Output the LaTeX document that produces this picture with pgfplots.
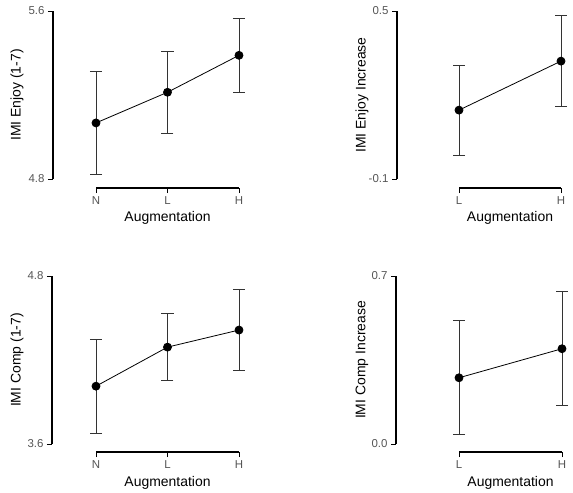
\documentclass[border=0pt]{standalone}
\usepackage{fontspec}
\setmainfont{Liberation Sans}
\usepackage{pgfplots}
\pgfplotsset{compat=1.18}
\definecolor{ticktxt}{HTML}{555555}

\pgfplotsset{
  rplot/.style={
    scale only axis, clip=false, height=168bp,
    axis x line*=bottom, axis y line*=left,
    tick align=outside, major tick length=5bp,
    tick style={black, line width=0.7bp},
    axis line style={line width=1.1bp},
    ticklabel style={font=\fontsize{11.5}{13}\selectfont, text=ticktxt},
    /pgf/number format/assume math mode=true,
    /pgf/number format/fixed, /pgf/number format/fixed zerofill,
    /pgf/number format/precision=1,
    label style={font=\fontsize{14}{16}\selectfont},
    xlabel={Augmentation},
    xlabel style={at={(rel axis cs:0.5,0)}, anchor=center, yshift=-39bp},
    ylabel style={at={(rel axis cs:0,0.5)}, anchor=center},
  },
  meanline/.style={black, line width=0.8bp, mark=*, mark size=4bp,
    mark options={solid, fill=black},
    error bars/.cd, y dir=both, y explicit,
    error bar style={line width=0.8bp, black!80},
    error mark options={rotate=90, mark size=6bp, line width=0.8bp, black!80}},
}

\begin{document}
\begin{tikzpicture}
\useasboundingbox (0,0) rectangle (573bp,-493bp);

% top left
\begin{axis}[rplot, at={(96bp,-179bp)}, anchor=south west, width=143bp,
  xmin=1, xmax=3, ymin=4.8, ymax=5.6, ytick={4.8,5.6},
  xtick={1,2,3}, xticklabels={N,L,H},
  axis x line shift=9bp, axis y line shift=43bp,
  ylabel={IMI Enjoy (1-7)}, ylabel style={yshift=79bp}]
  \addplot+[meanline] coordinates {
    (1,5.067) +- (0,0.244)
    (2,5.213) +- (0,0.194)
    (3,5.389) +- (0,0.175)
  };
  \draw[line width=1.1bp] ([yshift=-9bp]rel axis cs:0,0) -- ([yshift=-9bp]rel axis cs:1,0);
\end{axis}

% top right
\begin{axis}[rplot, at={(459bp,-179bp)}, anchor=south west, width=102bp,
  xmin=1, xmax=2, ymin=-0.1, ymax=0.5, ytick={-0.1,0.5},
  xtick={1,2}, xticklabels={L,H},
  axis x line shift=9bp, axis y line shift=62bp,
  ylabel={IMI Enjoy Increase}, ylabel style={yshift=97bp}]
  \addplot+[meanline] coordinates {
    (1,0.146) +- (0,0.161)
    (2,0.321) +- (0,0.162)
  };
  \draw[line width=1.1bp] ([yshift=-9bp]rel axis cs:0,0) -- ([yshift=-9bp]rel axis cs:1,0);
\end{axis}

% bottom left
\begin{axis}[rplot, at={(96bp,-444bp)}, anchor=south west, width=143bp,
  xmin=1, xmax=3, ymin=3.6, ymax=4.8, ytick={3.6,4.8},
  xtick={1,2,3}, xticklabels={N,L,H},
  axis x line shift=8bp, axis y line shift=44bp,
  ylabel={IMI Comp (1-7)}, ylabel style={yshift=79bp}]
  \addplot+[meanline] coordinates {
    (1,4.013) +- (0,0.334)
    (2,4.292) +- (0,0.238)
    (3,4.414) +- (0,0.291)
  };
  \draw[line width=1.1bp] ([yshift=-8bp]rel axis cs:0,0) -- ([yshift=-8bp]rel axis cs:1,0);
\end{axis}

% bottom right
\begin{axis}[rplot, at={(459bp,-444bp)}, anchor=south west, width=103bp,
  xmin=1, xmax=2, ymin=0, ymax=0.7, ytick={0,0.7},
  xtick={1,2}, xticklabels={L,H},
  axis x line shift=8bp, axis y line shift=63bp,
  ylabel={IMI Comp Increase}, ylabel style={yshift=97bp}]
  \addplot+[meanline] coordinates {
    (1,0.276) +- (0,0.237)
    (2,0.397) +- (0,0.238)
  };
  \draw[line width=1.1bp] ([yshift=-8bp]rel axis cs:0,0) -- ([yshift=-8bp]rel axis cs:1,0);
\end{axis}
\end{tikzpicture}
\end{document}
